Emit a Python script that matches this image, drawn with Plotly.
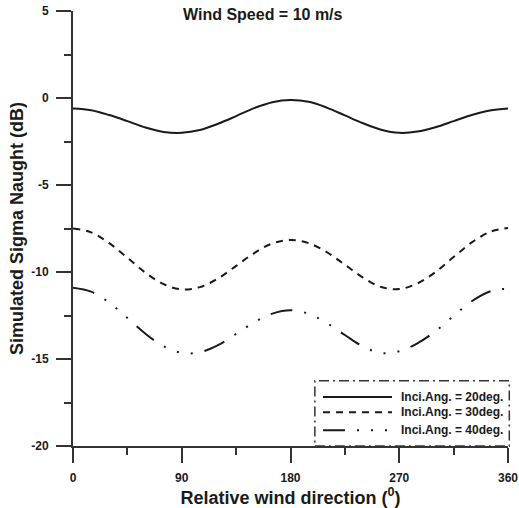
import plotly.graph_objects as go

# ---- data ----
direction = [0, 15, 30, 45, 60, 75, 90, 105, 120, 135, 150, 165, 180,
             195, 210, 225, 240, 255, 270, 285, 300, 315, 330, 345, 360]

sigma_20 = [-0.60, -0.70, -0.98, -1.33, -1.70, -1.95, -2.00, -1.84, -1.48, -1.04, -0.58, -0.24, -0.12,
            -0.22, -0.55, -1.00, -1.45, -1.82, -2.00, -1.93, -1.68, -1.33, -0.98, -0.72, -0.60]
sigma_30 = [-7.50, -7.72, -8.34, -9.18, -10.04, -10.70, -11.00, -10.87, -10.37, -9.65, -8.91, -8.36, -8.16,
            -8.34, -8.86, -9.58, -10.32, -10.86, -10.98, -10.66, -10.00, -9.14, -8.30, -7.70, -7.47]
sigma_40 = [-10.90, -11.13, -11.76, -12.64, -13.55, -14.27, -14.65, -14.61, -14.20, -13.56, -12.89, -12.39, -12.20,
            -12.40, -12.93, -13.62, -14.28, -14.66, -14.55, -14.10, -13.40, -12.52, -11.68, -11.12, -10.95]

series_names = ["Inci.Ang. = 20deg.", "Inci.Ang. = 30deg.", "Inci.Ang. = 40deg."]
x_ticks = [0, 90, 180, 270, 360]
y_ticks = [-20, -15, -10, -5, 0, 5]

title_text = "<b>Wind Speed = 10 m/s</b>"
x_title = "<b>Relative wind direction (<sup>0</sup>)</b>"
y_title = "<b>Simulated Sigma Naught (dB)</b>"

# ---- styles ----
dashes = ["solid", "7px,6px", "22px,12px,2px,12px,2px,12px,2px,12px"]
ink = "#1a1a1a"
axis_col = "#333333"
FONT = "Liberation Sans, Arial, sans-serif"

fig = go.Figure()
for name, ys, dash in zip(series_names, [sigma_20, sigma_30, sigma_40], dashes):
    fig.add_trace(go.Scatter(
        x=direction, y=ys, mode="lines", name=name, showlegend=False,
        line=dict(color=ink, width=2, dash=dash, shape="spline", smoothing=1.0),
    ))

# ---- custom legend (sample lines + labels) ----
row_y = [0.1126, 0.0775, 0.0361]
lx0, lx1, tx = 0.5747, 0.7333, 0.750
shapes = [dict(type="rect", xref="paper", yref="paper", x0=0.556, x1=1.003, y0=0.0, y1=0.150,
               line=dict(color=axis_col, width=1.5, dash="10px,4px,2px,4px"))]
annotations = []
for name, dash, ry in zip(series_names, dashes, row_y):
    shapes.append(dict(type="line", xref="paper", yref="paper", x0=lx0, x1=lx1, y0=ry, y1=ry,
                       line=dict(color=ink, width=2, dash=dash)))
    annotations.append(dict(xref="paper", yref="paper", x=tx, y=ry, xanchor="left", yanchor="middle",
                            text="<b>%s</b>" % name, showarrow=False,
                            font=dict(family=FONT, size=12, color=ink)))

annotations.append(dict(xref="paper", yref="paper", x=0.437, y=0.991, xanchor="center", yanchor="middle",
                        text=title_text, showarrow=False, font=dict(family=FONT, size=16, color=ink)))

fig.update_layout(
    width=519, height=508,
    margin=dict(l=73, r=11, t=11, b=62, autoexpand=False),
    paper_bgcolor="white", plot_bgcolor="white",
    font=dict(family=FONT, size=12, color=ink),
    shapes=shapes, annotations=annotations,
    showlegend=False,
)
fig.update_xaxes(
    range=[0, 360], tickvals=x_ticks, ticktext=[str(v) for v in x_ticks],
    automargin=False,
    showgrid=False, zeroline=False, showline=True, linecolor=axis_col, linewidth=2,
    ticks="outside", ticklen=15, tickwidth=2, tickcolor=axis_col, ticklabelstandoff=5,
    minor=dict(ticks="outside", dtick=45, tick0=0, ticklen=7, tickwidth=2, tickcolor=axis_col, showgrid=False),
    tickfont=dict(family=FONT, size=12, color=ink, weight="bold"),
    title=dict(text=x_title, font=dict(family=FONT, size=18, color=ink), standoff=3),
)
fig.update_yaxes(
    range=[-20, 5], tickvals=y_ticks, ticktext=[str(v) for v in y_ticks],
    automargin=False,
    showgrid=False, zeroline=False, showline=True, linecolor=axis_col, linewidth=2,
    ticks="outside", ticklen=15, tickwidth=2, tickcolor=axis_col, ticklabelstandoff=5,
    minor=dict(ticks="outside", dtick=2.5, tick0=0, ticklen=7, tickwidth=2, tickcolor=axis_col, showgrid=False),
    tickfont=dict(family=FONT, size=12, color=ink, weight="bold"),
    title=dict(text=y_title, font=dict(family=FONT, size=18, color=ink), standoff=3),
)

fig.write_html("out.html")
